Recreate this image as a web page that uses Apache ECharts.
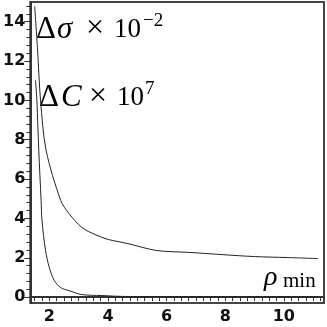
<!DOCTYPE html>
<html>
<head>
<meta charset="utf-8">
<script src="https://cdn.jsdelivr.net/npm/echarts@6/dist/echarts.min.js"></script>
<style>
  html, body { margin: 0; padding: 0; background: #fff; }
  #main { width: 327px; height: 327px; }
</style>
</head>
<body>
<div id="main"></div>
<script>
// upper curve: delta sigma x 10^-2
var rhoSigma = [1.50, 1.60, 1.70, 1.89, 2.39, 2.67, 3.11, 3.56, 4.01, 4.68, 5.65, 6.79, 7.89, 9.00, 10.13, 11.17]
var deltaSigma = [14.79, 12.55, 10.01, 7.46, 4.91, 4.25, 3.54, 3.18, 2.93, 2.72, 2.37, 2.27, 2.16, 2.06, 2.01, 1.96]

// lower curve: delta C x 10^7
var rhoC = [1.53, 1.575, 1.64, 1.72, 1.75, 1.87, 2.00, 2.17, 2.39, 2.67, 3.10, 3.77, 4.68, 6.0, 8.0, 10.0, 11.17]
var deltaC = [11.02, 10.0, 7.46, 4.91, 3.90, 2.37, 1.50, 0.84, 0.48, 0.33, 0.13, 0.08, 0.03, 0.03, 0.02, 0.01, 0.01]

// axis ticks
var xLabels = [2, 4, 6, 8, 10]
var yLabels = [0, 2, 4, 6, 8, 10, 12, 14]
var xMin = 1.35, xMax = 11.37
var yMin = -0.3, yMax = 15

var xMinor = []
for (var t = 1.5; t < xMax; t += 0.25) xMinor.push(+t.toFixed(2))
var yMinor = []
for (var s = 0; s < yMax; s += 0.4) yMinor.push(+s.toFixed(2))

function pairs(xs, ys) {
  return xs.map(function (x, i) { return [x, ys[i]] })
}

var labelFont = { color: '#111', fontSize: 16, fontWeight: 'bold', fontFamily: 'DejaVu Sans' }
var axisLineStyle = { lineStyle: { color: '#333', width: 2 } }

var option = {
  animation: false,
  grid: {
    left: 24, right: 3, top: 2, bottom: 24,
    show: true, borderColor: '#444', borderWidth: 2
  },
  xAxis: [
    {
      type: 'value', position: 'bottom', min: xMin, max: xMax,
      axisLine: axisLineStyle,
      splitLine: { show: false },
      axisTick: { show: true, length: 4, customValues: xLabels, lineStyle: { color: '#333' } },
      axisLabel: Object.assign({ customValues: xLabels, margin: 6 }, labelFont)
    },
    {
      type: 'value', position: 'bottom', min: xMin, max: xMax,
      axisLine: { show: false },
      splitLine: { show: false },
      axisTick: { show: true, length: 4, customValues: xMinor, lineStyle: { color: '#333' } },
      axisLabel: { show: false }
    }
  ],
  yAxis: [
    {
      type: 'value', position: 'left', min: yMin, max: yMax,
      axisLine: Object.assign({ show: true }, axisLineStyle),
      splitLine: { show: false },
      axisTick: { show: true, length: 6, customValues: yLabels, lineStyle: { color: '#333' } },
      axisLabel: Object.assign({ customValues: yLabels, margin: 5 }, labelFont)
    },
    {
      type: 'value', position: 'left', min: yMin, max: yMax,
      axisLine: { show: false },
      splitLine: { show: false },
      axisTick: { show: true, length: 4, customValues: yMinor, lineStyle: { color: '#333' } },
      axisLabel: { show: false }
    }
  ],
  series: [
    {
      type: 'line', data: pairs(rhoSigma, deltaSigma),
      showSymbol: false, smooth: 0.3,
      lineStyle: { color: '#222', width: 1 }
    },
    {
      type: 'line', data: pairs(rhoC, deltaC),
      showSymbol: false, smooth: 0.3,
      lineStyle: { color: '#222', width: 1 }
    }
  ],
  graphic: [
    {
      type: 'text', left: 36, top: 14,
      style: { text: 'Δ', font: '31px "Liberation Serif"', fill: '#000' }
    },
    {
      type: 'text', left: 57, top: 14,
      style: { text: 'σ', font: 'italic 31px "Liberation Serif"', fill: '#000' }
    },
    {
      type: 'text', left: 86, top: 13,
      style: { text: '×', font: '32px "Liberation Serif"', fill: '#000' }
    },
    {
      type: 'text', left: 114, top: 16,
      style: { text: '10', font: '27px "Liberation Serif"', fill: '#000' }
    },
    {
      type: 'text', left: 143, top: 12,
      style: { text: '−2', font: '19px "Liberation Serif"', fill: '#000' }
    },
    {
      type: 'text', left: 39, top: 82,
      style: { text: 'Δ', font: '31px "Liberation Serif"', fill: '#000' }
    },
    {
      type: 'text', left: 61, top: 82,
      style: { text: 'C', font: 'italic 31px "Liberation Serif"', fill: '#000' }
    },
    {
      type: 'text', left: 89, top: 81,
      style: { text: '×', font: '32px "Liberation Serif"', fill: '#000' }
    },
    {
      type: 'text', left: 117, top: 84,
      style: { text: '10', font: '27px "Liberation Serif"', fill: '#000' }
    },
    {
      type: 'text', left: 145, top: 80,
      style: { text: '7', font: '19px "Liberation Serif"', fill: '#000' }
    },
    {
      type: 'text', left: 264, top: 264,
      style: { text: 'ρ', font: 'italic 28px "Liberation Serif"', fill: '#000' }
    },
    {
      type: 'text', left: 283, top: 271,
      style: { text: 'min', font: '21px "Liberation Serif"', fill: '#000' }
    }
  ]
}

var chart = echarts.init(document.getElementById('main'))
chart.setOption(option)
</script>
</body>
</html>
